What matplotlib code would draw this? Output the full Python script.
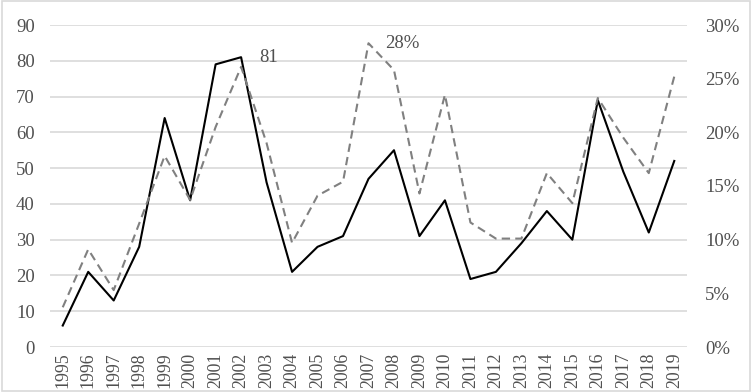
import matplotlib.pyplot as plt
from matplotlib.patches import Rectangle
from matplotlib.ticker import FuncFormatter

plt.rcParams['font.family'] = ['Liberation Serif', 'DejaVu Serif']

years = [str(y) for y in range(1995, 2020)]
counts = [6, 21, 13, 28, 64, 41, 79, 81, 46, 21, 28, 31, 47, 55, 31, 41,
          19, 21, 29, 38, 30, 69, 49, 32, 52]
shares = [3.7, 9.1, 5.3, 11.5, 17.8, 13.7, 20.5, 26.1, 19.0, 9.7, 14.1, 15.4,
          28.3, 25.8, 14.3, 23.5, 11.6, 10.1, 10.1, 16.2, 13.4, 23.2, 19.5,
          16.2, 25.2]

text_color = '#505050'
grid_color = '#d9d9d9'
fs = 13.5

fig = plt.figure(figsize=(7.52, 3.92), dpi=100)
ax = fig.add_axes([50 / 752, 1 - 347 / 392, 637 / 752, 322 / 392])
ax2 = ax.twinx()

x = range(len(years))
ax.plot(x, counts, color='black', lw=1.5, zorder=3)
ax2.plot(x, shares, color='#808080', lw=1.5, dashes=(4, 2.5), zorder=2)

ax.set_ylim(0, 90)
ax.set_yticks(range(0, 91, 10))
ax2.set_ylim(0, 30)
ax2.set_yticks(range(0, 31, 5))
ax2.yaxis.set_major_formatter(FuncFormatter(lambda v, p: f'{v:.0f}%'))
ax.set_xlim(-0.5, len(years) - 0.5)
ax.set_xticks(list(x))
ax.set_xticklabels(years, rotation=90)

ax.grid(axis='y', color=grid_color, lw=1.2)
ax.set_axisbelow(True)
for a in (ax, ax2):
    for s in a.spines.values():
        s.set_visible(False)
    a.tick_params(length=0, labelsize=fs, colors=text_color)
ax.tick_params(axis='y', pad=11)
# year labels slightly smaller so they stay inside the frame
ax.tick_params(axis='x', pad=4, labelsize=12.8)
ax2.tick_params(axis='y', pad=13)

# value labels at the peaks
i81 = counts.index(max(counts))
ax.annotate(f'{max(counts)}', (i81, max(counts)), xytext=(13, 0),
            textcoords='offset points', fontsize=fs, color=text_color,
            va='center', ha='left')
i28 = shares.index(max(shares))
ax2.annotate(f'{round(max(shares))}%', (i28, max(shares)), xytext=(12, 0),
             textcoords='offset points', fontsize=fs, color=text_color,
             va='center', ha='left')

fig.patches.append(Rectangle((0.002, 0.002), 0.996, 0.996, transform=fig.transFigure,
                             fill=False, edgecolor=grid_color, lw=1.2))

fig.savefig('out.png', dpi=100)
